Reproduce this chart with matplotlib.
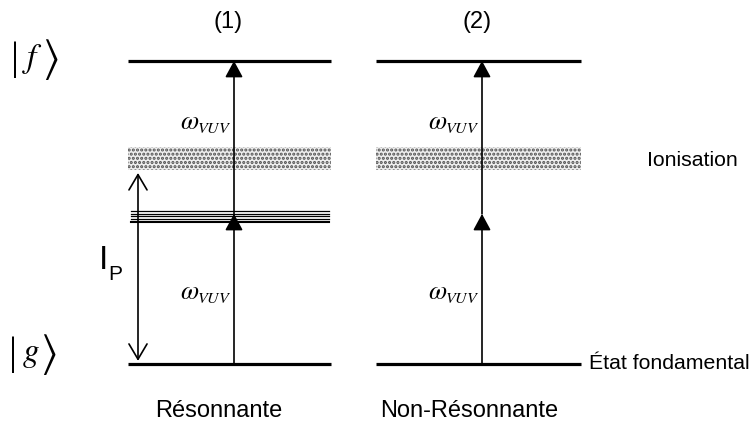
import matplotlib
matplotlib.use("Agg")
import matplotlib.pyplot as plt
from matplotlib.patches import FancyArrowPatch, ArrowStyle

plt.rcParams['font.family'] = ['Liberation Sans', 'DejaVu Sans']
plt.rcParams['mathtext.fontset'] = 'stix'
plt.rcParams['hatch.linewidth'] = 1.5

# energie (unites arbitraires), fondamental = 0
E_ground = 0.0
E_final = 10.0
E_omega = 5.0                      # un photon VUV
ion_band = (6.40, 7.15)            # continuum d'ionisation
res_levels = [5.03, 4.95, 4.87, 4.79]   # etats resonnants (fins)
res_main = 4.68                    # etat resonnant principal
E_ip = 6.30                        # potentiel d'ionisation (fleche I_P)

panel_titles = ['(1)', '(2)']
panel_names = ['Résonnante', 'Non-Résonnante']
panel_left = [128, 376]
panel_right = [331, 581]
arrow_x = [234, 482]

fig = plt.figure(figsize=(7.52, 4.26), dpi=100)
ax = fig.add_axes([0, 0, 1, 1])
ax.set_xlim(0, 752)
ax.set_ylim(-2.05, 12.01)
ax.axis('off')


def arrow(x, y0, y1, style, lw=1.2):
    p = FancyArrowPatch((x, y0), (x, y1), arrowstyle=style, mutation_scale=1,
                        lw=lw, color='k', shrinkA=0, shrinkB=0, zorder=5)
    ax.add_patch(p)


def omega(x, y):
    ax.text(x, y, r'$\omega$', ha='right', va='baseline', fontsize=19)
    ax.text(x - 2, y - 0.14, r'$VUV$', ha='left', va='baseline', fontsize=11.5)


def ket(x, y, letter):
    # barre, lettre, crochet
    ax.text(x, y, '|', ha='center', va='center', fontsize=29, family='Liberation Serif')
    ax.text(x + 18, y, '$' + letter + '$', ha='center', va='center', fontsize=24)
    ax.text(x + 35, y, r'$\rangle$', ha='center', va='center', fontsize=32)


filled = ArrowStyle('-|>', head_length=10, head_width=5.4)

for i in range(2):
    x0, x1, xa = panel_left[i], panel_right[i], arrow_x[i]
    # niveaux
    ax.plot([x0, x1], [E_final, E_final], color='k', lw=2.3, solid_capstyle='butt')
    ax.plot([x0, x1], [E_ground, E_ground], color='k', lw=2.3, solid_capstyle='butt')
    ax.fill_between([x0, x1], ion_band[0], ion_band[1], facecolor='#eeeeee',
                    edgecolor='#505050', hatch='....', lw=0)
    ax.text((x0 + x1) / 2 - 1, 11.3, panel_titles[i], ha='center', va='center', fontsize=17)
    ax.text((x0 + x1) / 2 - 11 + 2 * i, -1.55, panel_names[i],
            ha='center', va='center', fontsize=17)
    # photons
    if i == 0:
        for e in res_levels:
            ax.plot([x0 + 3, x1 - 2], [e, e], color='k', lw=0.9)
        ax.plot([x0 + 3, x1 - 2], [res_main, res_main], color='k', lw=1.5)
        arrow(xa, E_ground, res_levels[1], filled)
        arrow(xa, res_main, E_final, filled)
    else:
        arrow(xa, E_ground, E_omega - 0.05, filled)
        arrow(xa, E_omega - 0.05, E_final, filled)
    omega(xa - 35, E_final - 2.25)
    omega(xa - 35, E_omega - 2.85)

# I_P
arrow(138, E_ground + 0.1, E_ip, ArrowStyle('<->', head_length=11, head_width=6.5), lw=1.2)
ax.text(99, 3.4, 'I', ha='left', va='center', fontsize=24)
ax.text(108, 2.95, 'P', ha='left', va='center', fontsize=15)

# kets
ket(15, E_final + 0.05, 'f')
ket(13, E_ground + 0.3, 'g')

ax.text(647, (ion_band[0] + ion_band[1]) / 2 - 0.05, 'Ionisation', ha='left', va='center', fontsize=15.3)
ax.text(589, E_ground, 'État fondamental', ha='left', va='center', fontsize=15.3)

fig.savefig('out.png', dpi=100)
